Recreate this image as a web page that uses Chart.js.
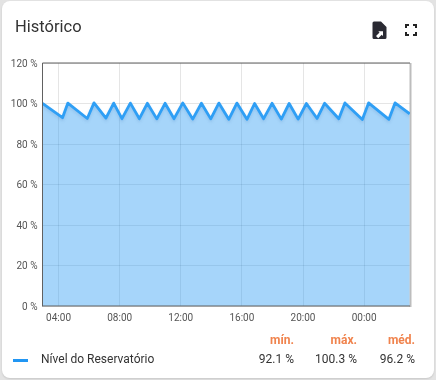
<!DOCTYPE html>
<html><head><meta charset="utf-8">
<style>
html,body{margin:0;padding:0;width:436px;height:380px;overflow:hidden;background:#e3e3e3;font-family:Roboto,sans-serif}
#card{position:absolute;left:2px;top:1px;width:432px;height:377px;background:#fff;border-radius:8px;box-shadow:0 1px 2px rgba(0,0,0,.12)}
canvas{position:absolute;left:0;top:0}
.t{position:absolute;white-space:nowrap;line-height:1}
#title{left:15px;top:19px;font-size:16.5px;color:#333}
.h{color:#f0834d;font-weight:700;font-size:12px;top:334px;text-align:right}
.v{color:#333;font-size:12px;top:353px;text-align:right}
#swatch{position:absolute;left:13px;top:359px;width:15px;height:3px;background:#2196f3}
#name{left:41px;top:353px;font-size:12px;color:#333}
svg{position:absolute}
</style></head><body>
<div id="card"></div>
<canvas id="c" width="436" height="380"></canvas>
<div class="t" id="title">Histórico</div>
<svg style="left:372px;top:21px" width="15" height="18" viewBox="0 0 15 18"><path d="M2 .5h7l5.500 5.500v10.500a1.500 1.500 0 0 1-1.500 1.500H2A1.500 1.500 0 0 1 .5 16.500V2A1.500 1.500 0 0 1 2 .5z" fill="#2a2a33"/><path d="M4 15l3.500-3.500-1.200-1.200H11V15l-1.300-1.300-3.500 3.500z" fill="#fff"/></svg>
<svg style="left:405px;top:24px" width="12" height="12" viewBox="0 0 12 12"><path d="M1 4V1h3M8 1h3v3M11 8v3H8M4 11H1V8" fill="none" stroke="#222" stroke-width="2"/></svg>
<div id="swatch"></div>
<div class="t" id="name"></div>
<div id="stats"></div>
<script src="https://cdn.jsdelivr.net/npm/chart.js@4"></script>
<script>
const seriesName = "Nível do Reservatório";
const hours = [2.95,4.26,4.61,5.88,6.32,7.10,7.61,8.15,8.70,9.29,9.81,10.43,10.97,11.56,12.13,12.78,13.35,13.96,14.49,15.14,15.67,16.33,16.83,17.42,17.97,18.58,19.09,19.68,20.22,20.92,21.41,22.34,22.74,23.88,24.29,25.62,26.02,26.98];
const levels = [100.1,93.0,100.2,92.6,100.3,92.8,100.2,92.5,100.2,92.5,100.1,92.4,100.1,92.5,100.3,92.3,100.1,92.4,100.2,92.2,100.2,92.2,100.0,92.5,100.1,92.3,100.0,92.3,100.0,92.6,100.1,92.5,100.3,92.1,100.3,92.2,100.3,94.9];
const tickHours = [4,8,12,16,20,24];
const tickLabels = ["04:00","08:00","12:00","16:00","20:00","00:00"];
const statHeaders = ["mín.","máx.","méd."];
const statValues = ["92.1 %","100.3 %","96.2 %"];

document.getElementById('name').textContent = seriesName;
const rights = [294,357,415];
const widths = [60,60,60];
document.getElementById('stats').innerHTML = statHeaders.map((h,i)=>
 `<div class="t h" style="left:${rights[i]-widths[i]}px;width:${widths[i]}px">${h}</div>`+
 `<div class="t v" style="left:${rights[i]-widths[i]}px;width:${widths[i]}px">${statValues[i]}</div>`).join('');

const frame = {
  id:'frame',
  beforeDatasetsDraw(chart){
    const a=chart.chartArea,c=chart.ctx;
    c.save();
    c.strokeStyle='#bdbdbd';c.lineWidth=2;
    c.beginPath();c.moveTo(a.right+.5,a.top);c.lineTo(a.right+.5,a.bottom+1);c.stroke();
    c.restore();
  },
  afterDatasetsDraw(chart){
    const a=chart.chartArea,c=chart.ctx;
    c.save();
    c.strokeStyle='#616161';c.lineWidth=1;
    c.beginPath();c.moveTo(a.left,a.bottom+.5);c.lineTo(a.left,a.top);c.lineTo(a.right,a.top);c.stroke();
    c.beginPath();c.moveTo(a.left,a.bottom);c.lineTo(a.right,a.bottom);c.stroke();
    c.restore();
  },
  beforeDatasetDraw(chart){
    const c=chart.ctx;c.save();
    c.shadowColor='rgba(60,110,170,.18)';c.shadowBlur=3;c.shadowOffsetY=2;
  },
  afterDatasetDraw(chart){chart.ctx.restore();}
};

new Chart(document.getElementById('c'),{
  type:'line',
  data:{datasets:[{
    label:seriesName,
    data:hours.map((h,i)=>({x:h,y:levels[i]})),
    borderColor:'#2f9ff5',borderWidth:2.8,pointRadius:0,tension:0,
    backgroundColor:'rgba(33,150,243,0.4)',fill:'origin',borderJoinStyle:'round'
  }]},
  options:{
    responsive:false,animation:false,
    layout:{padding:{left:0,top:63,right:26,bottom:0}},
    plugins:{legend:{display:false},tooltip:{enabled:false}},
    scales:{
      x:{type:'linear',min:hours[0],max:hours[hours.length-1]+0.02,
        afterBuildTicks(s){s.ticks=tickHours.map(v=>({value:v}));},
        afterFit(s){s.height=74;},
        grid:{color:'rgba(0,0,0,.1)',drawTicks:false,lineWidth:1},
        border:{display:false},
        ticks:{callback:v=>tickLabels[tickHours.indexOf(v)],maxRotation:0,autoSkip:false,padding:6,color:'#555',font:{family:'Roboto',size:10}}
      },
      y:{min:0,max:120,
        afterFit(s){s.width=42.5;},
        grid:{color:'rgba(0,0,0,.1)',drawTicks:false,lineWidth:1},
        border:{display:false},
        ticks:{stepSize:20,callback:v=>v+' %',padding:5,labelOffset:1,color:'#555',font:{family:'Roboto',size:10}}
      }
    }
  },
  plugins:[frame]
});
</script>
</body></html>
